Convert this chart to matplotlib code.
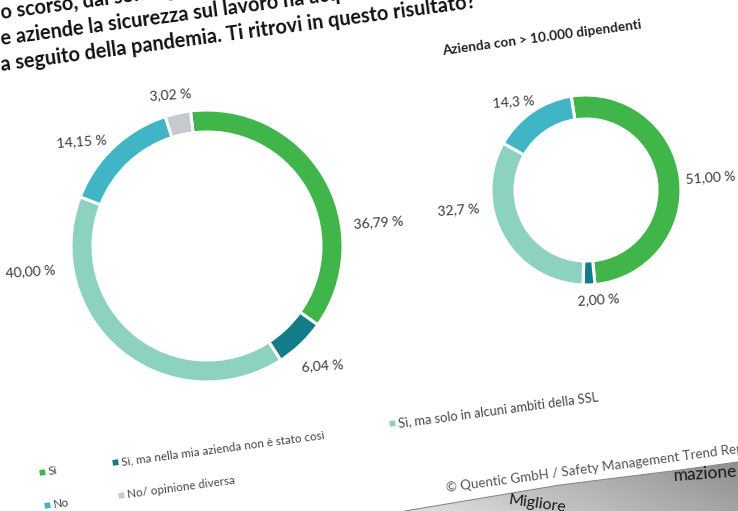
import numpy as np
import matplotlib
matplotlib.use("Agg")
import matplotlib.pyplot as plt
from matplotlib.patches import Polygon

# survey answers (shared by both donuts)
answers = ['Sì',
           'Sì, ma nella mia azienda non è stato così',
           'Sì, ma solo in alcuni ambiti della SSL',
           'No',
           'No/ opinione diversa']
colors = ['#3fb54a', '#137c89', '#8dd2c0', '#40b5c6', '#c4cacf']

# all companies
all_values = [36.79, 6.04, 40.00, 14.15, 3.02]
all_decimals = [2, 2, 2, 2, 2]
# companies with > 10.000 employees
big_values = [51.00, 2.00, 32.7, 14.3]
big_decimals = [2, 2, 1, 1]

title_lines = ['o scorso, dal sondaggio è emerso che',
               'e aziende la sicurezza sul lavoro ha acquisito',
               'a seguito della pandemia. Ti ritrovi in questo risultato?']
subtitle = 'Azienda con > 10.000 dipendenti'
source = '© Quentic GmbH / Safety Management Trend Report'

W, H = 738, 511
ROT = 7.6  # the printed page sits slightly rotated

plt.rcParams['font.family'] = ['Lato', 'DejaVu Sans']

fig = plt.figure(figsize=(W / 100, H / 100), dpi=100)
ax = fig.add_axes([0, 0, 1, 1])


def fmt(v, d):
    return f'{v:.{d}f}'.replace('.', ',') + ' %'


def donut(values, center, radius, width, tilt):
    # y axis is flipped later, so angles run the other way round
    ax.pie(values, colors=colors[:len(values)], center=center, radius=radius,
           startangle=-(90 + tilt), counterclock=True, frame=True,
           wedgeprops=dict(width=width, edgecolor='white', linewidth=2.2))


donut(all_values, (207, 246), 136, 22, 7)
donut(big_values, (586, 190), 95, 24, 9)

# value labels
all_pos = [(378, 222), (323, 366), (30, 271), (82, 141), (170, 95)]
for v, d, (x, y) in zip(all_values, all_decimals, all_pos):
    ax.text(x, y, fmt(v, d), ha='center', va='center', fontsize=10,
            color='#3a3a3a', rotation=4)
big_pos = [(711, 177), (598, 300), (458, 210), (514, 102)]
for v, d, (x, y) in zip(big_values, big_decimals, big_pos):
    ax.text(x, y, fmt(v, d), ha='center', va='center', fontsize=10,
            color='#3a3a3a', rotation=4)

# heading
for i, line in enumerate(title_lines):
    ax.text(1, 13 + 26 * i, line, ha='left', va='center', fontsize=14.3,
            fontweight='bold', color='#111111', rotation=ROT,
            rotation_mode='anchor')
ax.text(442, 51, subtitle, ha='left', va='center', fontsize=9.8,
        fontweight='bold', color='#222222', rotation=ROT,
        rotation_mode='anchor')

# legend
leg_pos = [(42, 472), (115, 462), (392, 423), (47, 505), (121, 495)]
leg_size = [8.6, 8.4, 9.3, 8.6, 8.4]
for name, c, (x, y), fs in zip(answers, colors, leg_pos, leg_size):
    ax.scatter([x], [y], marker=(4, 0, 45 + ROT), s=34, color=c, lw=0)
    ax.text(x + 6, y, name, ha='left', va='center', fontsize=fs,
            color='#444444', rotation=ROT, rotation_mode='anchor')

ax.text(446, 488, source, ha='left', va='center', fontsize=9.6,
        color='#555555', rotation=ROT, rotation_mode='anchor')

# next page curling in at the bottom right
page = Polygon([(405, 511), (560, 485), (680, 470), (738, 462), (738, 511)],
               closed=True, facecolor='none', edgecolor='none')
ax.add_patch(page)
gx = np.linspace(0, 1, 200)[None, :]
gy = np.linspace(0, 1, 60)[:, None]
grad = 0.88 - 0.24 * gx - 0.08 * gy
img = ax.imshow(grad, cmap='gray', vmin=0, vmax=1, extent=(405, 738, 462, 511),
                origin='upper', zorder=2, aspect='auto')
img.set_clip_path(page)
ax.plot([405, 560, 680, 738], [511, 485, 470, 462], color='#8a8a8a', lw=0.8,
        zorder=2.5)
ax.text(673, 476, 'mazione', ha='left', va='center', fontsize=12.5,
        color='#1a1a1a', rotation=4, rotation_mode='anchor', zorder=3)
ax.text(508, 500, 'Migliore', ha='left', va='center', fontsize=11.5,
        color='#1a1a1a', rotation=-8, rotation_mode='anchor', zorder=3)

ax.set_xlim(0, W)
ax.set_ylim(H, 0)
ax.set_aspect('equal')
ax.axis('off')

fig.savefig('out.png', dpi=100)
